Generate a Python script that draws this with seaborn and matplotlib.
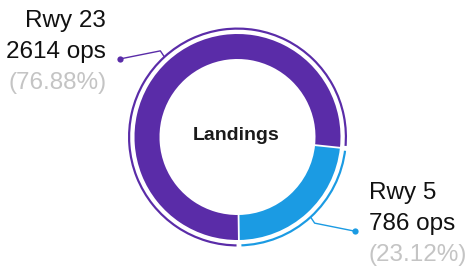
import numpy as np
import matplotlib
matplotlib.use("Agg")
import matplotlib.pyplot as plt
import seaborn as sns

categories = ["Rwy 5", "Rwy 23"]
ops = [786, 2614]
percent_labels = ["(23.12%)", "(76.88%)"]
center_title = "Landings"

sns.set_theme(style="white")
plt.rcParams['font.family'] = ['Liberation Sans', 'DejaVu Sans']

colors = ["#1b9be3", "#5a2ca8"]

W, H = 469, 274
fig = plt.figure(figsize=(W / 100, H / 100), dpi=100)
ax = fig.add_axes([0, 0, 1, 1])
ax.set_xlim(0, W)
ax.set_ylim(0, H)
ax.set_aspect("equal")
ax.axis("off")

cx, cy = 237.5, H - 137
r_main = 103
w_main = 25
r_ring = 109.5
w_ring = 2.2
start = -6

wedges, _ = ax.pie(ops, colors=colors, startangle=start, counterclock=False,
                   radius=r_main, center=(cx, cy),
                   wedgeprops=dict(width=w_main, edgecolor="none", linewidth=0))
ax.pie(ops, colors=colors, startangle=start, counterclock=False,
       radius=r_ring, center=(cx, cy),
       wedgeprops=dict(width=w_ring, edgecolor="none", linewidth=0))
ax.set_xlim(0, W)
ax.set_ylim(0, H)

# white separators between slices
for wdg in wedges:
    a = np.deg2rad(wdg.theta1)
    ca, sa = np.cos(a), np.sin(a)
    r0 = r_main - w_main - 1
    ax.plot([cx + r0 * ca, cx + (r_main + 0.5) * ca],
            [cy + r0 * sa, cy + (r_main + 0.5) * sa], color="white", lw=1.3)
    r1 = r_ring - w_ring - 1
    ax.plot([cx + r1 * ca, cx + (r_ring + 1) * ca],
            [cy + r1 * sa, cy + (r_ring + 1) * sa], color="white", lw=3.5)

ax.text(cx - 1, cy + 1, center_title, ha="center", va="center",
        fontsize=14, fontweight="bold", color="#1a1a1a")

for i, wdg in enumerate(wedges):
    ang = np.deg2rad((wdg.theta1 + wdg.theta2) / 2)
    px = cx + (r_ring - 1) * np.cos(ang)
    py = cy + (r_ring - 1) * np.sin(ang)
    right = np.cos(ang) > 0
    sign = 1 if right else -1
    up = 1 if py > cy else -1
    ex, ey = px + sign * 4, py + up * 6
    dx, dy = ex + sign * 40, ey - 8
    ax.plot([px, ex, dx], [py, ey, dy], color=colors[i], lw=1.0,
            solid_capstyle="round", solid_joinstyle="round")
    ax.plot([dx], [dy], "o", color=colors[i], ms=4.5, mew=0)
    tx = dx + sign * 14
    ha = "left" if right else "right"
    mid = dy + 7
    ax.text(tx, mid + 31, categories[i], ha=ha, va="center", fontsize=17.5,
            color="#111111")
    ax.text(tx, mid, f"{ops[i]} ops", ha=ha, va="center",
            fontsize=17.5, color="#111111")
    ax.text(tx, mid - 31, percent_labels[i], ha=ha, va="center",
            fontsize=17.5, color="#c4c4c4")

fig.savefig("out.png", dpi=100, facecolor="white")
